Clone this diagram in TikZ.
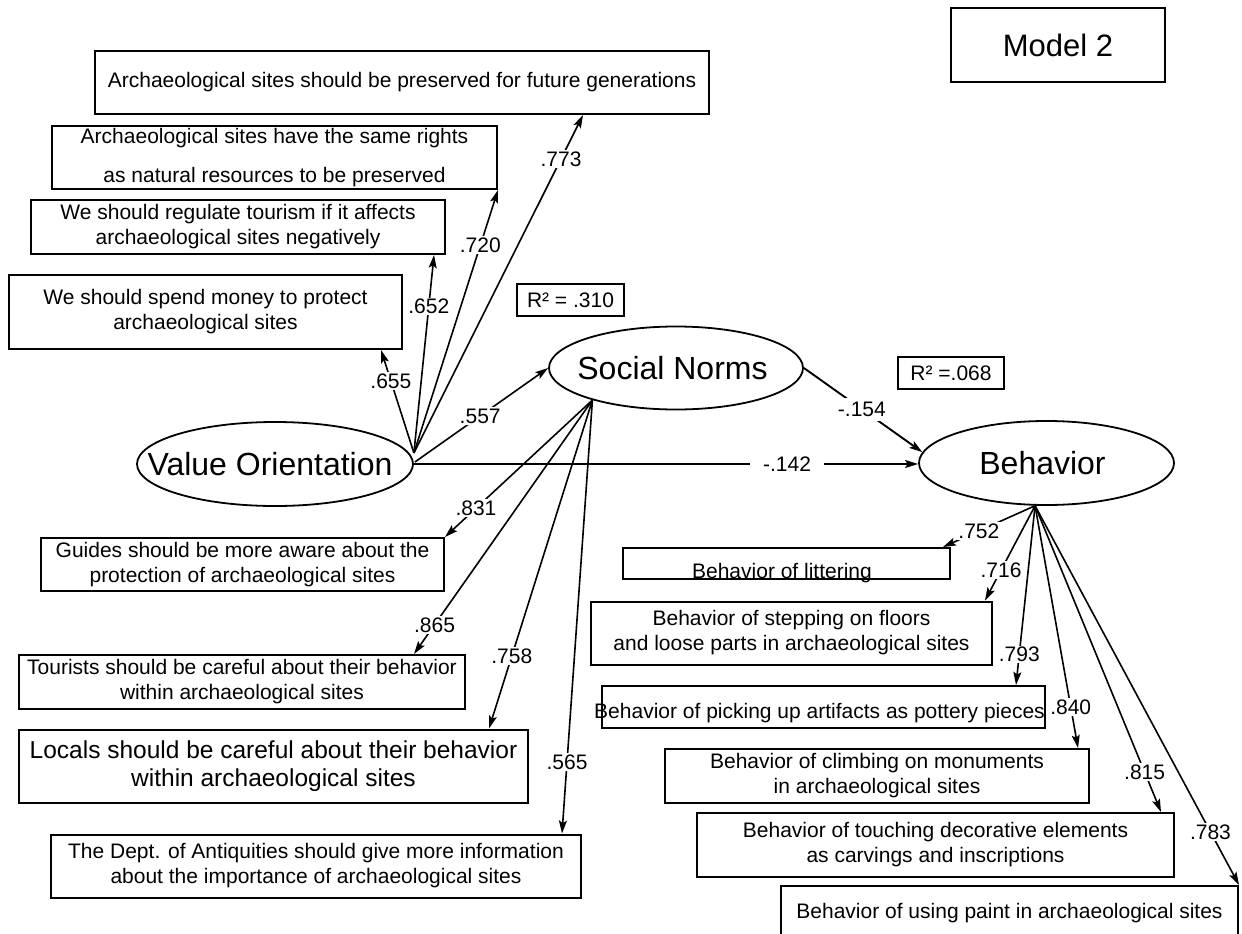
\documentclass[tikz,border=0pt]{standalone}
\usepackage{fontspec}
\setmainfont{Liberation Sans}
\usetikzlibrary{shapes.geometric,arrows.meta}
\begin{document}
\begin{tikzpicture}[x=1pt,y=-1pt,
  every node/.style={font=\fontsize{21}{25}\selectfont},
  box/.style={draw,line width=2pt,inner sep=0pt,align=center},
  latent/.style={draw,ellipse,line width=1.8pt,inner sep=0pt,font=\fontsize{32}{36}\selectfont},
  path/.style={line width=1.6pt,-{Stealth[length=13pt,width=8pt,inset=2.5pt]}},
  coef/.style={fill=white,inner sep=1.5pt,font=\fontsize{21}{25}\selectfont}]
\useasboundingbox (0,0) rectangle (1242,934);

% title
\node[box,minimum width=214,minimum height=74,font=\fontsize{31}{36}\selectfont] (model) at (1058,45) {Model 2};

% indicators of value orientation
\node[box,minimum width=614,minimum height=63] (a1) at (402,82.5) {Archaeological sites should be preserved for future generations};
\node[box,minimum width=445,minimum height=63,font=\fontsize{21}{39}\selectfont] (a2) at (274.5,157.5) {Archaeological sites have the same rights\\as natural resources to be preserved};
\node[box,minimum width=414,minimum height=54] (a3) at (238,227) {We should regulate tourism if it affects\\archaeological sites negatively};
\node[box,minimum width=393,minimum height=74] (a4) at (205.5,312) {We should spend money to protect\\archaeological sites};

% explained variance
\node[box,minimum width=107,minimum height=32] (r1) at (570.5,300) {R² = .310};
\node[box,minimum width=106,minimum height=32] (r2) at (951,373) {R² =.068};

% latent variables
\node[latent,minimum width=276,minimum height=84] (vo) at (275,464) {\makebox[0pt]{\hspace*{-10pt}Value Orientation}};
\node[latent,minimum width=254,minimum height=83] (sn) at (676,368) {\makebox[0pt]{\hspace*{-7pt}Social Norms}};
\node[latent,minimum width=255,minimum height=84] (bh) at (1046.5,463) {\makebox[0pt]{\hspace*{-8pt}Behavior}};

% indicators of social norms
\node[box,minimum width=403,minimum height=53] (g1) at (242.5,564.5) {Guides should be more aware about the\\protection of archaeological sites};
\node[box,minimum width=446,minimum height=54] (g2) at (242,682) {Tourists should be careful about their behavior\\within archaeological sites};
\node[box,minimum width=509,minimum height=73,font=\fontsize{24.5}{28}\selectfont] (g3) at (273.5,766) {Locals should be careful about their behavior\\within archaeological sites};
\node[box,minimum width=530,minimum height=63] (g4) at (316,866) {The Dept. of Antiquities should give more information\\about the importance of archaeological sites};

% indicators of behavior
\node[box,minimum width=327,minimum height=31] (b1) at (786.5,563.5) {\makebox[0pt]{\hspace*{-9pt}\raisebox{-15pt}[0pt][0pt]{Behavior of littering}}};
\node[box,minimum width=401,minimum height=63] (b2) at (791.5,633) {Behavior of stepping on floors\\and loose parts in archaeological sites};
\node[box,minimum width=443,minimum height=42] (b3) at (823.5,707) {\makebox[0pt]{\hspace*{-8pt}\raisebox{-11pt}[0pt][0pt]{Behavior of picking up artifacts as pottery pieces}}};
\node[box,minimum width=424,minimum height=54] (b4) at (877,776) {Behavior of climbing on monuments\\in archaeological sites};
\node[box,minimum width=477,minimum height=64] (b5) at (935.5,845) {Behavior of touching decorative elements\\as carvings and inscriptions};
\node[box,minimum width=457,minimum height=54] (b6) at (1009.5,913) {Behavior of using paint in archaeological sites};

% fan origins
\coordinate (vofan) at ([shift={(0,-11)}]vo.east);
\coordinate (snfan) at (sn.201);
\coordinate (bhfan) at (bh.255);

% value orientation loadings
\draw[path] (vofan) -- node[coef,pos=0.70] (c655) {.655} ([shift={(-22,0)}]a4.south east);
\draw[path] (vofan) -- node[coef,pos=0.74] (c652) {.652} ([shift={(-12,0)}]a3.south east);
\draw[path] (vofan) -- node[coef,pos=0.79] (c720) {.720} (a2.south east);
\draw[path] (vofan) -- node[coef,pos=0.87] (c773) {.773} ([shift={(181,0)}]a1.south);

% structural paths
\draw[path] ([shift={(1,-2)}]vo.east) -- node[coef,pos=0.49] (c557) {.557} (sn.west);
\draw[path] (vo.east) -- node[coef,pos=0.74,inner xsep=13pt] (c142) {-.142} (vo.east -| bh.west);
\draw[path,line width=1.9pt] (sn.east) -- node[coef,pos=0.49,inner sep=4pt] (c154) {-.154} (bh.175);

% social norms loadings
\draw[path] (snfan) -- node[coef,pos=0.79] (c831) {.831} (g1.north east);
\draw[path] (snfan) -- node[coef,pos=0.885] (c865) {.865} ([shift={(-52,0)}]g2.north east);
\draw[path] (snfan) -- node[coef,pos=0.78] (c758) {.758} ([shift={(-40,0)}]g3.north east);
\draw[path] (snfan) -- node[coef,pos=0.835] (c565) {.565} ([shift={(-20,0)}]g4.north east);

% behavior loadings
\draw[path] (bhfan) -- node[coef,pos=0.61] (c752) {.752} ([shift={(-8,0)}]b1.north east);
\draw[path] (bhfan) -- node[coef,pos=0.68] (c716) {.716} ([shift={(-8,0)}]b2.north east);
\draw[path] (bhfan) -- node[coef,pos=0.83] (c793) {.793} ([shift={(-30,0)}]b3.north east);
\draw[path] (bhfan) -- node[coef,pos=0.83] (c840) {.840} ([shift={(-12,0)}]b4.north east);
\draw[path] (bhfan) -- node[coef,pos=0.87] (c815) {.815} ([shift={(-14,0)}]b5.north east);
\draw[path] (bhfan) -- node[coef,pos=0.86] (c783) {.783} (b6.north east);
\end{tikzpicture}
\end{document}
